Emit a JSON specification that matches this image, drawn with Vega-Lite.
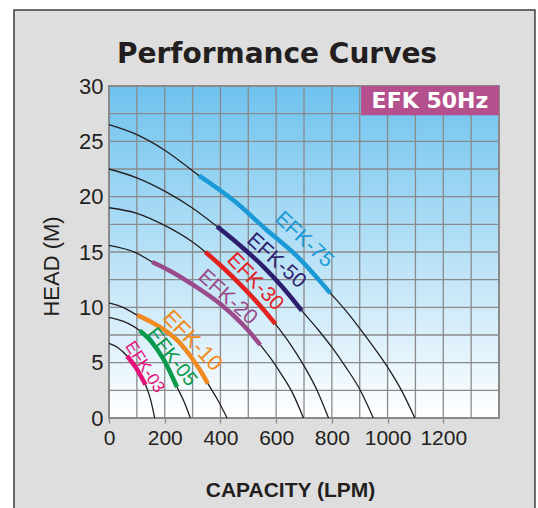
{
  "$schema": "https://vega.github.io/schema/vega-lite/v6.json",
  "width": 390,
  "height": 332,
  "autosize": {"type": "none"},
  "padding": {"left": 109, "top": 86, "right": 39, "bottom": 90},
  "background": "#ffffff",
  "config": {"view": {"stroke": null}},
  "title": {
    "text": "Performance Curves",
    "font": "DejaVu Sans",
    "fontSize": 28,
    "fontWeight": "bold",
    "color": "#231f20",
    "anchor": "middle",
    "frame": "group",
    "baseline": "alphabetic",
    "dx": -27,
    "dy": 82,
    "offset": 0
  },
  "datasets": {
    "frame": [{"q": -341, "q2": 1529, "h": 36.87, "h2": -10}],
    "plot": [{"q": 0, "q2": 1400, "h": 0, "h2": 30}],
    "gridx": [
      {"q": 100, "h": 0, "h2": 30}, {"q": 200, "h": 0, "h2": 30}, {"q": 300, "h": 0, "h2": 30}, {"q": 400, "h": 0, "h2": 30}, {"q": 500, "h": 0, "h2": 30}, {"q": 600, "h": 0, "h2": 30}, {"q": 700, "h": 0, "h2": 30},
      {"q": 800, "h": 0, "h2": 30}, {"q": 900, "h": 0, "h2": 30}, {"q": 1000, "h": 0, "h2": 30}, {"q": 1100, "h": 0, "h2": 30}, {"q": 1200, "h": 0, "h2": 30}, {"q": 1300, "h": 0, "h2": 30}
    ],
    "gridy": [
      {"h": 2.5, "q": 0, "q2": 1400}, {"h": 5, "q": 0, "q2": 1400}, {"h": 7.5, "q": 0, "q2": 1400}, {"h": 10, "q": 0, "q2": 1400}, {"h": 12.5, "q": 0, "q2": 1400}, {"h": 15, "q": 0, "q2": 1400},
      {"h": 17.5, "q": 0, "q2": 1400}, {"h": 20, "q": 0, "q2": 1400}, {"h": 22.5, "q": 0, "q2": 1400}, {"h": 25, "q": 0, "q2": 1400}, {"h": 27.5, "q": 0, "q2": 1400}
    ],
    "badge": [{"q": 905, "q2": 1400, "h": 27.35, "h2": 30}],
    "badgeText": [{"label": "EFK 50Hz", "q": 1152, "h": 28.65}],
    "curves": [
      {"model": "EFK-75", "q": 0, "h": 26.5}, {"model": "EFK-75", "q": 100, "h": 25.6}, {"model": "EFK-75", "q": 200, "h": 24.2}, {"model": "EFK-75", "q": 323, "h": 21.9}, {"model": "EFK-75", "q": 450, "h": 19.6}, {"model": "EFK-75", "q": 561, "h": 17.1}, {"model": "EFK-75", "q": 680, "h": 14.5}, {"model": "EFK-75", "q": 794, "h": 11.3}, {"model": "EFK-75", "q": 850, "h": 9.7}, {"model": "EFK-75", "q": 900, "h": 8.1}, {"model": "EFK-75", "q": 950, "h": 6.4}, {"model": "EFK-75", "q": 1000, "h": 4.6}, {"model": "EFK-75", "q": 1050, "h": 2.5}, {"model": "EFK-75", "q": 1098, "h": 0},
      {"model": "EFK-50", "q": 0, "h": 22.5}, {"model": "EFK-50", "q": 100, "h": 21.7}, {"model": "EFK-50", "q": 200, "h": 20.5}, {"model": "EFK-50", "q": 298, "h": 19.0}, {"model": "EFK-50", "q": 388, "h": 17.3}, {"model": "EFK-50", "q": 470, "h": 15.6}, {"model": "EFK-50", "q": 553, "h": 13.7}, {"model": "EFK-50", "q": 620, "h": 11.9}, {"model": "EFK-50", "q": 692, "h": 9.7}, {"model": "EFK-50", "q": 750, "h": 8.0}, {"model": "EFK-50", "q": 800, "h": 6.4}, {"model": "EFK-50", "q": 850, "h": 4.6}, {"model": "EFK-50", "q": 900, "h": 2.6}, {"model": "EFK-50", "q": 949, "h": 0},
      {"model": "EFK-30", "q": 0, "h": 19.0}, {"model": "EFK-30", "q": 100, "h": 18.5}, {"model": "EFK-30", "q": 200, "h": 17.4}, {"model": "EFK-30", "q": 300, "h": 15.9}, {"model": "EFK-30", "q": 346, "h": 15.0}, {"model": "EFK-30", "q": 400, "h": 13.8}, {"model": "EFK-30", "q": 470, "h": 12.1}, {"model": "EFK-30", "q": 530, "h": 10.5}, {"model": "EFK-30", "q": 597, "h": 8.5}, {"model": "EFK-30", "q": 650, "h": 6.7}, {"model": "EFK-30", "q": 698, "h": 4.8}, {"model": "EFK-30", "q": 745, "h": 2.6}, {"model": "EFK-30", "q": 788, "h": 0},
      {"model": "EFK-20", "q": 0, "h": 15.6}, {"model": "EFK-20", "q": 100, "h": 14.9}, {"model": "EFK-20", "q": 155, "h": 14.1}, {"model": "EFK-20", "q": 226, "h": 13.2}, {"model": "EFK-20", "q": 298, "h": 12.1}, {"model": "EFK-20", "q": 400, "h": 10.3}, {"model": "EFK-20", "q": 500, "h": 7.9}, {"model": "EFK-20", "q": 543, "h": 6.6}, {"model": "EFK-20", "q": 580, "h": 5.4}, {"model": "EFK-20", "q": 620, "h": 3.9}, {"model": "EFK-20", "q": 660, "h": 2.2}, {"model": "EFK-20", "q": 698, "h": 0},
      {"model": "EFK-10", "q": 0, "h": 10.4}, {"model": "EFK-10", "q": 50, "h": 10.0}, {"model": "EFK-10", "q": 101, "h": 9.3}, {"model": "EFK-10", "q": 150, "h": 8.7}, {"model": "EFK-10", "q": 196, "h": 8.0}, {"model": "EFK-10", "q": 250, "h": 6.9}, {"model": "EFK-10", "q": 298, "h": 5.4}, {"model": "EFK-10", "q": 330, "h": 4.2}, {"model": "EFK-10", "q": 355, "h": 3.1}, {"model": "EFK-10", "q": 390, "h": 1.65}, {"model": "EFK-10", "q": 424, "h": 0},
      {"model": "EFK-05", "q": 0, "h": 9.1}, {"model": "EFK-05", "q": 50, "h": 8.75}, {"model": "EFK-05", "q": 110, "h": 7.9}, {"model": "EFK-05", "q": 150, "h": 6.95}, {"model": "EFK-05", "q": 196, "h": 5.3}, {"model": "EFK-05", "q": 244, "h": 2.8}, {"model": "EFK-05", "q": 270, "h": 1.45}, {"model": "EFK-05", "q": 292, "h": 0},
      {"model": "EFK-03", "q": 0, "h": 6.75}, {"model": "EFK-03", "q": 30, "h": 6.4}, {"model": "EFK-03", "q": 65, "h": 5.6}, {"model": "EFK-03", "q": 95, "h": 4.6}, {"model": "EFK-03", "q": 131, "h": 3.0}, {"model": "EFK-03", "q": 150, "h": 1.6}, {"model": "EFK-03", "q": 164, "h": 0}
    ],
    "segments": [
      {"model": "EFK-75", "q": 323, "h": 21.9}, {"model": "EFK-75", "q": 450, "h": 19.6}, {"model": "EFK-75", "q": 561, "h": 17.1}, {"model": "EFK-75", "q": 680, "h": 14.5}, {"model": "EFK-75", "q": 794, "h": 11.3},
      {"model": "EFK-50", "q": 388, "h": 17.3}, {"model": "EFK-50", "q": 470, "h": 15.6}, {"model": "EFK-50", "q": 553, "h": 13.7}, {"model": "EFK-50", "q": 620, "h": 11.9}, {"model": "EFK-50", "q": 692, "h": 9.7},
      {"model": "EFK-30", "q": 346, "h": 15.0}, {"model": "EFK-30", "q": 400, "h": 13.8}, {"model": "EFK-30", "q": 470, "h": 12.1}, {"model": "EFK-30", "q": 530, "h": 10.5}, {"model": "EFK-30", "q": 597, "h": 8.5},
      {"model": "EFK-20", "q": 155, "h": 14.1}, {"model": "EFK-20", "q": 226, "h": 13.2}, {"model": "EFK-20", "q": 298, "h": 12.1}, {"model": "EFK-20", "q": 400, "h": 10.3}, {"model": "EFK-20", "q": 500, "h": 7.9}, {"model": "EFK-20", "q": 543, "h": 6.6},
      {"model": "EFK-10", "q": 101, "h": 9.3}, {"model": "EFK-10", "q": 150, "h": 8.7}, {"model": "EFK-10", "q": 196, "h": 8.0}, {"model": "EFK-10", "q": 250, "h": 6.9}, {"model": "EFK-10", "q": 298, "h": 5.4}, {"model": "EFK-10", "q": 330, "h": 4.2}, {"model": "EFK-10", "q": 355, "h": 3.1},
      {"model": "EFK-05", "q": 110, "h": 7.9}, {"model": "EFK-05", "q": 150, "h": 6.95}, {"model": "EFK-05", "q": 196, "h": 5.3}, {"model": "EFK-05", "q": 244, "h": 2.8},
      {"model": "EFK-03", "q": 65, "h": 5.6}, {"model": "EFK-03", "q": 95, "h": 4.6}, {"model": "EFK-03", "q": 131, "h": 3.0}
    ],
    "labels": [
      {"model": "EFK-75", "q": 700, "h": 16.1},
      {"model": "EFK-50", "q": 600, "h": 14.2},
      {"model": "EFK-30", "q": 524, "h": 12.3},
      {"model": "EFK-20", "q": 425, "h": 10.9},
      {"model": "EFK-10", "q": 300, "h": 7.0},
      {"model": "EFK-05", "q": 226, "h": 5.5},
      {"model": "EFK-03", "q": 128, "h": 4.6}
    ]
  },
  "encoding": {
    "x": {
      "field": "q", "type": "quantitative",
      "scale": {"domain": [0, 1400], "nice": false, "zero": false},
      "axis": {
        "zindex": 1,
        "values": [0, 200, 400, 600, 800, 1000, 1200],
        "format": "d",
        "grid": false, "domain": false,
        "ticks": true, "tickSize": 5, "tickColor": "#8a8a8a", "tickWidth": 1.3,
        "labelFont": "Liberation Sans Narrow, Liberation Sans", "labelFontSize": 21, "labelColor": "#231f20",
        "labelPadding": 4, "labelFlush": false, "labelOverlap": false,
        "title": "CAPACITY (LPM)", "titleFont": "Liberation Sans", "titleFontSize": 21, "titleFontWeight": "bold", "titleColor": "#231f20",
        "titleX": 181, "titleY": 72, "titleBaseline": "middle", "titleAlign": "center"
      }
    },
    "y": {
      "field": "h", "type": "quantitative",
      "scale": {"domain": [0, 30], "nice": false, "zero": false},
      "axis": {
        "zindex": 1,
        "values": [0, 5, 10, 15, 20, 25, 30],
        "format": "d",
        "grid": false, "domain": false, "ticks": false,
        "labelFont": "Liberation Sans Narrow, Liberation Sans", "labelFontSize": 22, "labelColor": "#231f20",
        "labelPadding": 6, "labelFlush": false, "labelOverlap": false,
        "title": "HEAD (M)", "titleFont": "Liberation Sans", "titleFontSize": 22, "titleFontWeight": "normal", "titleColor": "#231f20",
        "titleX": -58, "titleY": 180, "titleBaseline": "middle", "titleAlign": "center", "titleAngle": -90
      }
    }
  },
  "layer": [
    {
      "data": {"name": "frame"},
      "mark": {"type": "rect", "fill": "#dedede", "stroke": "#3c3c3c", "strokeWidth": 1.5, "clip": false},
      "encoding": {"x2": {"field": "q2"}, "y2": {"field": "h2"}}
    },
    {
      "data": {"name": "plot"},
      "mark": {
        "type": "rect",
        "stroke": "#8a8a8a",
        "strokeWidth": 2,
        "fill": {"gradient": "linear", "x1": 0, "y1": 0, "x2": 0, "y2": 1, "stops": [{"offset": 0, "color": "#6ec2ee"}, {"offset": 1, "color": "#ffffff"}]}
      },
      "encoding": {"x2": {"field": "q2"}, "y2": {"field": "h2"}}
    },
    {
      "data": {"name": "gridx"},
      "mark": {"type": "rule", "stroke": "#8a8a8a", "strokeWidth": 1.3},
      "encoding": {"y2": {"field": "h2"}}
    },
    {
      "data": {"name": "gridy"},
      "mark": {"type": "rule", "stroke": "#8a8a8a", "strokeWidth": 1.3},
      "encoding": {"x2": {"field": "q2"}}
    },
    {
      "data": {"name": "badge"},
      "mark": {"type": "rect", "fill": "#b5508e"},
      "encoding": {"x2": {"field": "q2"}, "y2": {"field": "h2"}}
    },
    {
      "data": {"name": "curves"},
      "mark": {"type": "line", "stroke": "#231f20", "strokeWidth": 1.3, "interpolate": "monotone"},
      "encoding": {"detail": {"field": "model", "type": "nominal"}}
    },
    {
      "data": {"name": "segments"},
      "mark": {"type": "line", "strokeWidth": 4.5, "interpolate": "monotone", "strokeCap": "butt"},
      "encoding": {
        "color": {
          "field": "model", "type": "nominal", "legend": null,
          "scale": {"domain": ["EFK-75", "EFK-50", "EFK-30", "EFK-20", "EFK-10", "EFK-05", "EFK-03"], "range": ["#1b9ad7", "#2d1e6f", "#e3211e", "#9a4b8c", "#f18a21", "#0b9a4b", "#e4127a"]}
        }
      }
    },
    {
      "data": {"name": "labels"},
      "mark": {"type": "text", "font": "Liberation Sans Narrow, Liberation Sans", "align": "center", "baseline": "middle"},
      "encoding": {
        "text": {"field": "model", "type": "nominal"},
        "color": {
          "field": "model", "type": "nominal", "legend": null,
          "scale": {"domain": ["EFK-75", "EFK-50", "EFK-30", "EFK-20", "EFK-10", "EFK-05", "EFK-03"], "range": ["#1b9ad7", "#2d1e6f", "#e3211e", "#9a4b8c", "#f18a21", "#0b9a4b", "#e4127a"]}
        },
        "angle": {
          "field": "model", "type": "nominal", "legend": null,
          "scale": {"type": "ordinal", "domain": ["EFK-75", "EFK-50", "EFK-30", "EFK-20", "EFK-10", "EFK-05", "EFK-03"], "range": [43, 42, 46, 42, 46, 52, 57]}
        },
        "size": {
          "field": "model", "type": "nominal", "legend": null,
          "scale": {"type": "ordinal", "domain": ["EFK-75", "EFK-50", "EFK-30", "EFK-20", "EFK-10", "EFK-05", "EFK-03"], "range": [21, 21, 21, 21, 22, 20, 17]}
        }
      }
    },
    {
      "data": {"name": "badgeText"},
      "mark": {"type": "text", "font": "DejaVu Sans", "fontWeight": "bold", "fontSize": 22, "color": "#ffffff", "align": "center", "baseline": "middle"},
      "encoding": {"text": {"field": "label", "type": "nominal"}}
    }
  ]
}
